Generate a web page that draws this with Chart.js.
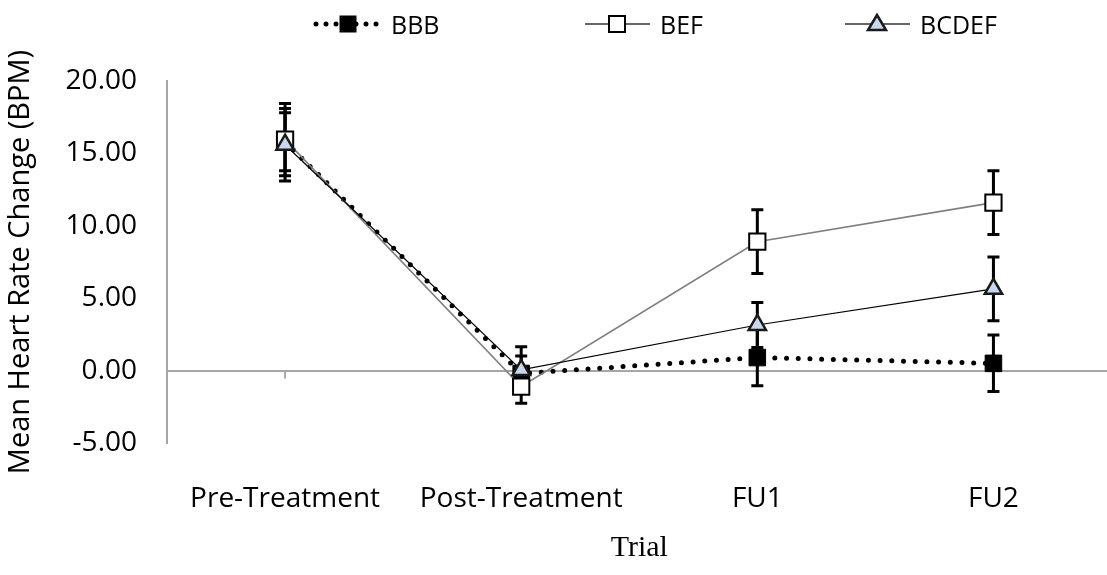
<!DOCTYPE html>
<html>
<head>
<meta charset="utf-8">
<script src="https://cdn.jsdelivr.net/npm/chart.js@4.4.1/dist/chart.umd.min.js"></script>
<style>
  body { margin: 0; background: #fff; }
  #wrap { position: relative; width: 1107px; height: 575px; overflow: hidden; }
  #mainChart { position: absolute; left: 0; top: 0; }
  #legend { position: absolute; top: 0; left: 0; width: 1107px; height: 48px; font-family: 'Open Sans', sans-serif; font-size: 25px; color: #000; }
  .lg-item { position: absolute; top: 6px; height: 36px; display: flex; align-items: center; }
  .lg-item span { margin-left: 8px; }
</style>
</head>
<body>
<div id="wrap">
  <canvas id="mainChart" width="1125" height="575"></canvas>
  <div id="legend"></div>
</div>
<script>
const TRIALS = ['Pre-Treatment', 'Post-Treatment', 'FU1', 'FU2'];

const BBB_MEAN = [15.8, -0.2, 0.9, 0.5];
const BBB_ERR = [2.0, 1.2, 1.95, 1.95];

const BEF_MEAN = [15.95, -1.1, 8.9, 11.6];
const BEF_ERR = [2.5, 1.15, 2.2, 2.2];

const BCDEF_MEAN = [15.6, 0.05, 3.15, 5.65];
const BCDEF_ERR = [2.5, 1.6, 1.55, 2.2];

const Y_MIN = -5, Y_MAX = 20, Y_STEP = 5;

const FONT = "'Open Sans', sans-serif";

// error bars go under the lines and markers
const errorBars = {
    id: 'errorBars',
    beforeDatasetsDraw(chart) {
        const { ctx, scales: { x, y } } = chart;
        ctx.save();
        // little tick mark on the zero line under the first category
        ctx.strokeStyle = '#a6a6a6';
        ctx.lineWidth = 2;
        ctx.beginPath();
        ctx.moveTo(x.getPixelForValue(0), y.getPixelForValue(0));
        ctx.lineTo(x.getPixelForValue(0), y.getPixelForValue(0) + 8);
        ctx.stroke();

        ctx.strokeStyle = '#000';
        ctx.lineWidth = 3;
        chart.data.datasets.forEach(ds => {
            ds.data.forEach((v, i) => {
                const e = ds.errors[i];
                const px = x.getPixelForValue(i);
                const top = y.getPixelForValue(v + e);
                const bot = y.getPixelForValue(v - e);
                ctx.beginPath();
                ctx.moveTo(px, top); ctx.lineTo(px, bot);
                ctx.moveTo(px - 6, top); ctx.lineTo(px + 6, top);
                ctx.moveTo(px - 6, bot); ctx.lineTo(px + 6, bot);
                ctx.stroke();
            });
        });
        ctx.restore();
    }
};

const datasets = [
    {
        label: 'BBB', data: BBB_MEAN, errors: BBB_ERR, order: 3,
        borderColor: '#000', borderWidth: 5, borderDash: [0, 11.7], borderCapStyle: 'round',
        pointStyle: 'rect', pointRadius: 11.7, pointHoverRadius: 11.7,
        pointBackgroundColor: '#000', pointBorderColor: '#000', pointBorderWidth: 1
    },
    {
        label: 'BEF', data: BEF_MEAN, errors: BEF_ERR, order: 2,
        borderColor: '#7f7f7f', borderWidth: 1.6,
        pointStyle: 'rect', pointRadius: 11.5, pointHoverRadius: 11.5,
        pointBackgroundColor: '#fff', pointBorderColor: '#000', pointBorderWidth: 2
    },
    {
        label: 'BCDEF', data: BCDEF_MEAN, errors: BCDEF_ERR, order: 1,
        borderColor: '#000', borderWidth: 1.2,
        pointStyle: 'triangle', pointRadius: 10, pointHoverRadius: 10,
        pointBackgroundColor: '#c9d6ec', pointBorderColor: '#1a1a1a', pointBorderWidth: 2.5
    }
];

function drawSample(ds) {
    const c = document.createElement('canvas');
    c.width = 70; c.height = 36;
    const g = c.getContext('2d');
    const cy = 18;
    g.strokeStyle = ds.borderDash ? '#000' : '#333';
    g.lineWidth = ds.borderDash ? 5 : 1.6;
    g.lineCap = ds.borderDash ? 'round' : 'butt';
    if (ds.borderDash) g.setLineDash([0, 10]);
    g.beginPath(); g.moveTo(3, cy); g.lineTo(68, cy); g.stroke();
    g.setLineDash([]);
    g.lineWidth = ds.pointBorderWidth;
    g.fillStyle = ds.pointBackgroundColor;
    g.strokeStyle = ds.pointBorderColor;
    const cx = 35;
    if (ds.pointStyle === 'rect') {
        g.fillRect(cx - 8, cy - 8, 16, 16);
        g.strokeRect(cx - 8, cy - 8, 16, 16);
    } else {
        g.beginPath();
        g.moveTo(cx, cy - 9); g.lineTo(cx + 9, cy + 6); g.lineTo(cx - 9, cy + 6); g.closePath();
        g.fill(); g.stroke();
    }
    return c;
}

const legendStarts = [313, 582, 842];
const legendEl = document.getElementById('legend');
datasets.forEach((ds, i) => {
    const item = document.createElement('div');
    item.className = 'lg-item';
    item.style.left = legendStarts[i] + 'px';
    item.appendChild(drawSample(ds));
    const s = document.createElement('span');
    s.textContent = ds.label;
    item.appendChild(s);
    legendEl.appendChild(item);
});

const chart = new Chart(document.getElementById('mainChart'), {
    type: 'line',
    data: { labels: TRIALS, datasets: datasets },
    plugins: [errorBars],
    options: {
        responsive: false,
        devicePixelRatio: 1,
        animation: false,
        layout: { padding: { top: 81, right: 0, bottom: 0, left: 0 } },
        plugins: { legend: { display: false }, tooltip: { enabled: false } },
        scales: {
            x: {
                offset: true,
                grid: { display: false },
                border: { display: false },
                ticks: { color: '#000', font: { family: FONT, size: 28 }, padding: 31, maxRotation: 0 },
                title: { display: true, text: 'Trial', color: '#000', font: { family: "'Liberation Serif', serif", size: 30 }, padding: { top: 0, bottom: 9 } },
                afterFit: s => { s.height = 132; }
            },
            y: {
                min: Y_MIN, max: Y_MAX,
                ticks: { stepSize: Y_STEP, color: '#000', font: { family: FONT, size: 28 }, padding: 30, callback: v => v.toFixed(2) },
                grid: { drawTicks: false, lineWidth: 2, color: c => c.tick && c.tick.value === 0 ? '#a6a6a6' : 'rgba(0,0,0,0)' },
                border: { display: true, color: '#a6a6a6', width: 2 },
                title: { display: true, text: 'Mean Heart Rate Change (BPM)', color: '#000', font: { family: FONT, size: 29 }, padding: { top: 3, bottom: 0 } },
                afterFit: s => { s.width = 167; }
            }
        }
    }
});
</script>
</body>
</html>
